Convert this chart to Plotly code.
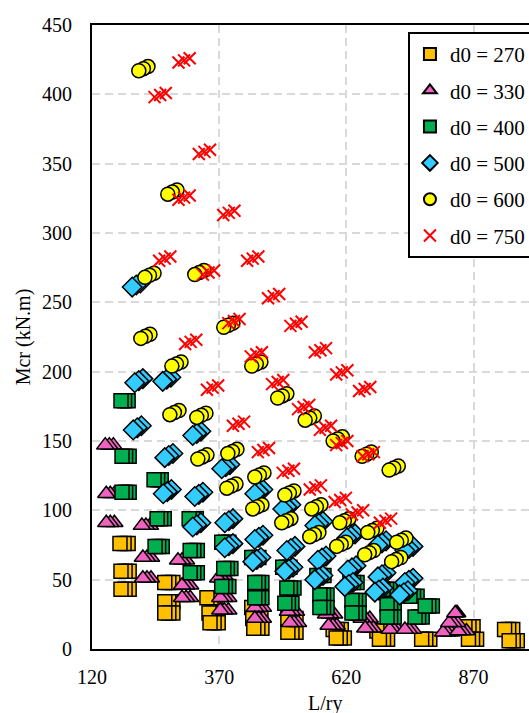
import plotly.graph_objects as go

# ---- data: L/ry (x) and Mcr in kN.m (y) for each d0 series ----
x_270 = [191,183,175, 193,185,177, 193,185,177, 279,271,263, 279,271,263, 279,271,263,
         362,354,346, 366,358,350, 368,360,352, 450,442,434, 452,444,436, 454,446,438,
         521,513,505, 521,513,505, 610,602,594, 616,608,600, 696,688,680, 701,693,685,
         784,776,768, 869,861,853, 876,868,860, 947,939,931, 956,948,940]
y_270 = [76,76,76, 56,56,56, 43,43,43, 48,48,48, 34,34,34, 26,26,26,
         37,37,37, 26,26,26, 19,19,19, 30,30,30, 22,22,22, 15,15,15,
         22,22,22, 12,12,12, 14,14,14, 8,8,8, 13,13,13, 7,7,7,
         7,7,7, 16,16,16, 7,7,7, 14,14,14, 6,6,6]

x_330 = [162,154,146, 164,156,148, 164,156,148, 234,226,218, 236,228,220, 236,228,220,
         305,297,289, 313,305,297, 313,305,297, 384,376,368, 388,380,372, 388,380,372,
         456,448,440, 456,448,440, 521,513,505, 525,517,509, 596,588,580, 601,593,585,
         666,658,650, 673,665,657, 721,713,705, 751,743,735, 826,818,810, 856,848,840,
         838,830,822, 838,836,834]
y_330 = [147,147,147, 112,112,112, 91,91,91, 89,89,89, 66,66,66, 51,51,51,
         64,64,64, 46,46,46, 37,37,37, 51,51,51, 37,37,37, 28,28,28,
         30,30,30, 22,22,22, 27,27,27, 19,19,19, 25,25,25, 17,17,17,
         22,22,22, 15,15,15, 14,14,14, 14,14,14, 12,12,12, 13,13,13,
         19,19,19, 26,26,26]

x_400 = [191,184,177, 193,186,179, 193,186,179, 256,249,242, 262,255,248, 325,318,311,
         258,251,244, 327,320,313, 327,320,313, 389,382,375, 393,386,379, 389,382,375,
         454,447,440, 454,447,440, 448,441,434, 509,502,495, 517,510,503, 513,506,499,
         576,569,562, 582,575,568, 582,575,568, 641,634,627, 645,638,631, 645,638,631,
         706,699,692, 714,707,700, 714,707,700, 759,752,745, 769,762,755, 789,782,775]
y_400 = [179,179,179, 139,139,139, 113,113,113, 122,122,122, 94,94,94, 94,94,94,
         74,74,74, 71,71,71, 55,55,55, 77,77,77, 58,58,58, 45,45,45,
         48,48,48, 37,37,37, 66,66,66, 59,59,59, 44,44,44, 33,33,33,
         53,53,53, 39,39,39, 30,30,30, 48,48,48, 35,35,35, 26,26,26,
         43,43,43, 32,32,32, 23,23,23, 38,38,38, 23,23,23, 31,31,31]

x_500 = [215,207,199, 220,212,204, 275,267,259, 217,209,201, 334,326,318, 279,271,263,
         391,383,375, 276,268,260, 338,330,322, 334,326,318, 397,389,381, 397,389,381,
         456,448,440, 456,448,440, 452,444,436, 511,503,495, 519,511,503, 515,507,499,
         574,566,558, 580,572,564, 574,566,558, 637,629,621, 639,631,623, 633,625,617,
         698,690,682, 698,690,682, 692,684,676, 751,743,735, 751,743,735, 741,733,725]
y_500 = [264,262.5,261, 195,193.5,192, 196,194.5,193, 161,159.5,158, 157,155.5,154, 141,139.5,138,
         133,131.5,130, 115,113.5,112, 113,111.5,110, 91,89.5,88, 94,92.5,91, 76,74.5,73,
         115,113.5,112, 82,80.5,79, 66,64.5,63, 104,102.5,101, 74,72.5,71, 59,57.5,56,
         92,90.5,89, 67,65.5,64, 53,51.5,50, 83,81.5,80, 60,58.5,57, 48,46.5,45,
         78,76.5,75, 55,53.5,52, 44,42.5,41, 74,72.5,71, 51,49.5,48, 42,40.5,39]

x_600 = [230,221,212, 287,278,269, 242,233,224, 340,331,322, 234,225,216, 397,388,379,
         452,443,434, 503,494,485, 557,548,539, 612,603,594, 669,660,651, 722,713,704,
         291,282,273, 344,335,326, 295,286,277, 346,337,328, 405,396,387, 403,394,385,
         458,449,440, 454,445,436, 517,508,499, 570,561,552, 511,502,493, 566,557,548,
         625,616,607, 619,610,601, 680,671,662, 674,665,656, 737,728,719, 727,718,709]
y_600 = [420,418.5,417, 331,329.5,328, 271,269.5,268, 273,271.5,270, 227,225.5,224, 235,233.5,232,
         207,205.5,204, 184,182.5,181, 168,166.5,165, 153,151.5,150, 142,140.5,139, 132,130.5,129,
         172,170.5,169, 170,168.5,167, 207,205.5,204, 140,138.5,137, 144,142.5,141, 119,117.5,116,
         127,125.5,124, 104,102.5,101, 114,112.5,111, 104,102.5,101, 94,92.5,91, 84,82.5,81,
         94,92.5,91, 77,75.5,74, 87,85.5,84, 71,69.5,68, 80,78.5,77, 66,64.5,63]

x_750 = [312,301,290, 265,254,243, 352,341,330, 312,301,290, 400,389,378, 274,263,252,
         360,349,338, 447,436,425, 488,477,466, 532,521,510, 580,569,558, 622,611,600,
         667,656,645, 325,314,303, 410,399,388, 454,443,432, 496,485,474, 368,357,346,
         547,536,525, 419,408,397, 590,579,568, 468,457,446, 622,611,600, 517,506,495,
         570,559,548, 619,608,597, 653,642,631, 708,697,686, 674,663,652]
y_750 = [426,424.5,423, 401,399.5,398, 360,358.5,357, 327,325.5,324, 316,314.5,313, 283,281.5,280,
         273,271.5,270, 283,281.5,280, 256,254.5,253, 236,234.5,233, 217,215.5,214, 201,199.5,198,
         189,187.5,186, 223,221.5,220, 238,236.5,235, 214,212.5,211, 194,192.5,191, 190,188.5,187,
         176,174.5,173, 164,162.5,161, 161,159.5,158, 145,143.5,142, 150,148.5,147, 130,128.5,127,
         118,116.5,115, 109,107.5,106, 100,98.5,97, 94,92.5,91, 142,140.5,139]

series_names = ["d0 = 270", "d0 = 330", "d0 = 400", "d0 = 500", "d0 = 600", "d0 = 750"]
x_ticks = [120, 370, 620, 870]
y_ticks = [0, 50, 100, 150, 200, 250, 300, 350, 400, 450]
x_title = "L/ry"
y_title = "Mcr (kN.m)"

FONT = "Liberation Serif"
fig = go.Figure()

def add_filled(x, y, name, symbol, color, size, group):
    fig.add_trace(go.Scatter(
        x=x, y=y, mode="markers", name=name, legendgroup=group,
        marker=dict(symbol=symbol, color=color, size=size,
                    line=dict(color="black", width=1.5)),
    ))

add_filled(x_270, y_270, series_names[0], "square", "#FFC000", 14, "a")
add_filled(x_330, y_330, series_names[1], "triangle-up", "#F062C0", 15, "b")
add_filled(x_400, y_400, series_names[2], "square", "#00B050", 14, "c")
add_filled(x_500, y_500, series_names[3], "diamond", "#33CCFF", 15, "d")
add_filled(x_600, y_600, series_names[4], "circle", "#FFFF00", 14, "e")
fig.add_trace(go.Scatter(
    x=x_750, y=y_750, mode="markers", name=series_names[5], legendgroup="f",
    marker=dict(symbol="x-thin", color="#FF0000", size=12,
                line=dict(color="#FF0000", width=2)),
))

fig.update_layout(
    width=529, height=713,
    margin=dict(l=92, r=0, t=25, b=64, autoexpand=False),
    plot_bgcolor="white", paper_bgcolor="white",
    font=dict(family=FONT, size=20, color="black"),
    showlegend=True,
    legend=dict(
        x=0.723, y=0.989, xanchor="left", yanchor="top",
        bgcolor="white", bordercolor="black", borderwidth=2,
        font=dict(family=FONT, size=21, color="black"),
        itemsizing="constant", traceorder="grouped", tracegroupgap=6,
        entrywidth=140, entrywidthmode="pixels",
    ),
    xaxis=dict(
        range=[120, 979], tickvals=x_ticks, ticks="",
        showline=True, linecolor="black", linewidth=2, mirror=True,
        showgrid=True, gridcolor="#d9d9d9", gridwidth=2, griddash="8px,5px",
        zeroline=False, ticklabelstandoff=9,
        tickfont=dict(family=FONT, size=20, color="black"),
        automargin=False,
    ),
    yaxis=dict(
        range=[0, 450], tickvals=y_ticks, ticks="",
        showline=True, linecolor="black", linewidth=2, mirror=False,
        showgrid=True, gridcolor="#d9d9d9", gridwidth=2, griddash="8px,5px",
        zeroline=False, ticklabelstandoff=14,
        tickfont=dict(family=FONT, size=20, color="black"),
        title=dict(text=y_title, standoff=6, font=dict(family=FONT, size=20, color="black")),
        automargin=False,
    ),
    annotations=[dict(
        text=x_title, xref="paper", yref="paper", x=0.533, y=-0.066,
        xanchor="center", yanchor="top", showarrow=False,
        font=dict(family=FONT, size=20, color="black"),
    )],
)

fig.write_html("out.html")
